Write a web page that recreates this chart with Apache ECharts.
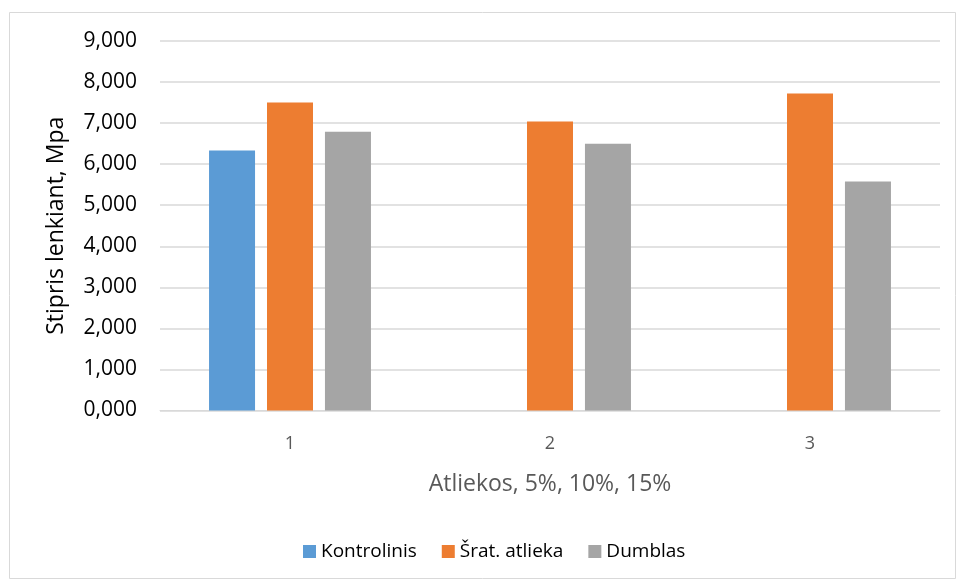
<!DOCTYPE html>
<html>
<head>
<meta charset="utf-8">
<script src="https://cdn.jsdelivr.net/npm/echarts@6/dist/echarts.min.js"></script>
<style>
  html, body { margin: 0; padding: 0; background: #fff; }
  #chart { width: 957px; height: 581px; }
</style>
</head>
<body>
<div id="chart"></div>
<script>
// Flexural strength by waste share
const categories = ['1', '2', '3'];
const kontrolinis = [6.33, null, null];
const sratAtlieka = [7.50, 7.04, 7.72];
const dumblas = [6.79, 6.50, 5.58];
const yTicks = [0, 1, 2, 3, 4, 5, 6, 7, 8, 9];

const FONT = '"Open Sans", "Noto Sans", sans-serif';
const TEXT = '#595959';

const chart = echarts.init(document.getElementById('chart'), null, { renderer: 'canvas' });

chart.setOption({
  backgroundColor: '#ffffff',
  animation: false,
  textStyle: { fontFamily: FONT },
  graphic: [{
    type: 'rect',
    shape: { x: 9.5, y: 12.5, width: 946, height: 566 },
    style: { fill: 'none', stroke: '#D9D9D9', lineWidth: 1 },
    silent: true
  }],
  grid: { left: 160, right: 17, top: 41, bottom: 170.5, containLabel: false },
  legend: {
    top: 537,
    left: 298,
    itemWidth: 13,
    itemHeight: 13,
    itemGap: 25,
    icon: 'rect',
    textStyle: { color: '#000', fontSize: 19, fontFamily: FONT },
    data: ['Kontrolinis', 'Šrat. atlieka', 'Dumblas']
  },
  xAxis: {
    type: 'category',
    data: categories,
    name: 'Atliekos, 5%, 10%, 15%',
    nameLocation: 'middle',
    nameGap: 62,
    nameTextStyle: { color: TEXT, fontSize: 23, fontFamily: FONT },
    axisLine: { show: true, lineStyle: { color: '#D9D9D9', width: 1 } },
    axisTick: { show: false },
    axisLabel: { color: TEXT, fontSize: 18, margin: 24, fontFamily: FONT }
  },
  yAxis: {
    type: 'value',
    min: yTicks[0],
    max: yTicks[yTicks.length - 1],
    interval: 1,
    name: 'Stipris lenkiant, Mpa',
    nameLocation: 'middle',
    nameGap: 92,
    nameRotate: 90,
    nameTextStyle: { color: '#000', fontSize: 23, fontFamily: FONT },
    axisLine: { show: false },
    axisTick: { show: false },
    axisLabel: {
      color: '#000',
      fontSize: 21,
      margin: 23,
      fontFamily: FONT,
      formatter: v => v.toFixed(3).replace('.', ',')
    },
    splitLine: { lineStyle: { color: '#D9D9D9', width: 1.5 } }
  },
  series: [
    {
      name: 'Kontrolinis', type: 'bar', data: kontrolinis,
      itemStyle: { color: '#5B9BD5' }, barWidth: 46, barGap: '26%'
    },
    {
      name: 'Šrat. atlieka', type: 'bar', data: sratAtlieka,
      itemStyle: { color: '#ED7D31' }, barWidth: 46, barGap: '26%'
    },
    {
      name: 'Dumblas', type: 'bar', data: dumblas,
      itemStyle: { color: '#A5A5A5' }, barWidth: 46, barGap: '26%'
    }
  ]
});
</script>
</body>
</html>
